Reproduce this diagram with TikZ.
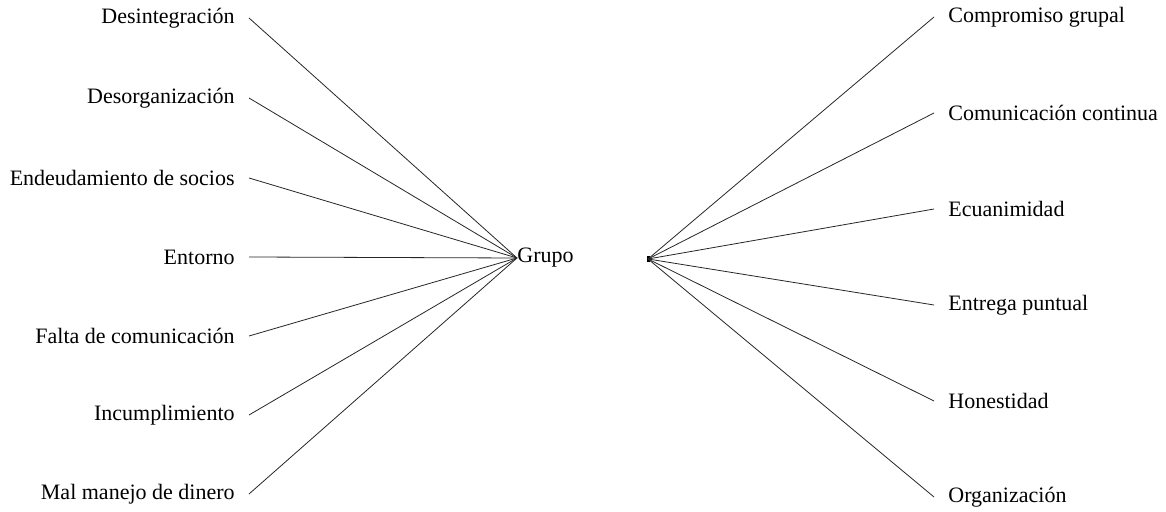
\documentclass[tikz,border=0pt]{standalone}
\usepackage{fontspec}
\setmainfont{Liberation Serif}
\usepackage{tikz}
\usetikzlibrary{positioning}

\begin{document}
\begin{tikzpicture}[x=0.5pt, y=-0.5pt, lbl/.style={font=\fontsize{11}{13}\selectfont, inner xsep=7pt, inner ysep=1pt}, cause/.style={lbl, anchor=east}, value/.style={lbl, anchor=west}, link/.style={draw=black!85, line width=0.4pt}]
\useasboundingbox (0,0) rectangle (1166,512);
\node[lbl, anchor=west, inner xsep=0pt] (grupo) at (517,258) {Grupo};
\node[fill=black, inner sep=0pt, minimum width=1.5pt, minimum height=3pt] (hub) at (648,259) {};
% causas (izquierda)
\node[cause] (desint) at (249,18) {Desintegración};
\node[cause] (desorg) at (249,98) {Desorganización};
\node[cause] (endeu) at (249,178) {Endeudamiento de socios};
\node[cause] (entorno) at (249,257) {Entorno};
\node[cause] (falta) at (249,336) {Falta de comunicación};
\node[cause] (incump) at (249,415) {Incumplimiento};
\node[cause] (malman) at (249,494) {Mal manejo de dinero};
% valores (derecha)
\node[value] (compr) at (934,17) {Compromiso grupal};
\node[value] (comun) at (934,113) {Comunicación continua};
\node[value] (ecuan) at (934,209) {Ecuanimidad};
\node[value] (entrega) at (934,305) {Entrega puntual};
\node[value] (hones) at (934,401) {Honestidad};
\node[value] (organ) at (934,497) {Organización};
\draw[link] (desint.east)--(grupo.west); \draw[link] (desorg.east)--(grupo.west);
\draw[link] (endeu.east)--(grupo.west); \draw[link] (entorno.east)--(grupo.west);
\draw[link] (falta.east)--(grupo.west); \draw[link] (incump.east)--(grupo.west);
\draw[link] (malman.east)--(grupo.west);
\draw[link] (hub.center)--(compr.west); \draw[link] (hub.center)--(comun.west);
\draw[link] (hub.center)--(ecuan.west); \draw[link] (hub.center)--(entrega.west);
\draw[link] (hub.center)--(hones.west); \draw[link] (hub.center)--(organ.west);
\end{tikzpicture}
\end{document}
